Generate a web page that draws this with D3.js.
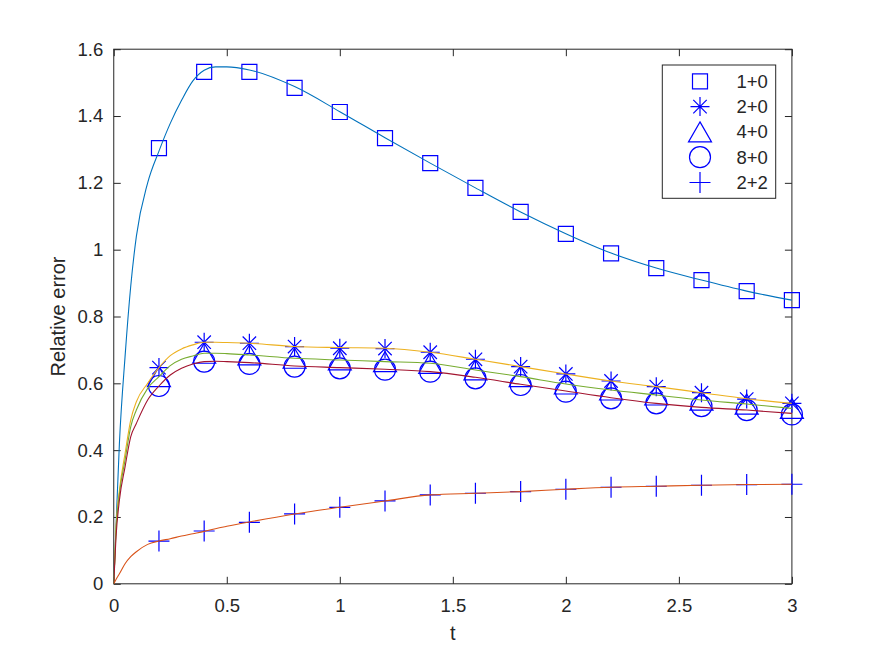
<html>
<head>
<meta charset="utf-8">
<title>Relative error</title>
<style>
body{margin:0;background:#fff;}
svg{display:block;}
text{font-family:"Liberation Sans",Arial,Helvetica,sans-serif;fill:#262626;}
</style>
</head>
<body>
<script src="https://cdn.jsdelivr.net/npm/d3@7/dist/d3.min.js"></script>
<script>
var width=875, height=656;
var pL=113.75, pR=791.9, pT=49.2, pB=583.8;

// marker sample times
var tMarks=[0.2,0.4,0.6,0.8,1.0,1.2,1.4,1.6,1.8,2.0,2.2,2.4,2.6,2.8,3.0];
// marker values per case
var mark1p0=[1.304,1.532,1.532,1.484,1.412,1.334,1.259,1.185,1.113,1.047,0.989,0.945,0.909,0.876,0.849];
var mark2p0=[0.647,0.723,0.720,0.710,0.705,0.704,0.693,0.672,0.650,0.628,0.607,0.590,0.572,0.553,0.540];
var mark4p0=[0.620,0.690,0.685,0.675,0.670,0.665,0.660,0.640,0.620,0.598,0.580,0.565,0.550,0.538,0.525];
var mark8p0=[0.592,0.665,0.658,0.650,0.645,0.641,0.635,0.615,0.595,0.575,0.555,0.540,0.532,0.520,0.507];
var mark2p2=[0.128,0.158,0.184,0.209,0.229,0.248,0.266,0.271,0.276,0.283,0.289,0.292,0.295,0.297,0.298];

// smooth curves
var tCurve=[0,0.01,0.025,0.05,0.075,0.1,0.15,0.2,0.25,0.3,0.35,0.4,0.45,0.5,0.6,0.8,1.0,1.2,1.4,1.6,1.8,2.0,2.2,2.4,2.6,2.8,3.0];
var curve1p0=[0,0.17,0.42,0.68,0.89,1.04,1.20,1.295,1.378,1.447,1.505,1.537,1.547,1.547,1.538,1.488,1.413,1.335,1.259,1.185,1.113,1.048,0.990,0.945,0.909,0.876,0.849];
var curve2p0=[0,0.17,0.28,0.39,0.49,0.545,0.60,0.647,0.683,0.703,0.715,0.723,0.723,0.722,0.720,0.710,0.707,0.705,0.693,0.672,0.650,0.628,0.607,0.590,0.572,0.554,0.540];
var curve4p0=[0,0.16,0.27,0.37,0.47,0.52,0.585,0.620,0.653,0.672,0.682,0.690,0.690,0.689,0.685,0.675,0.670,0.665,0.660,0.640,0.620,0.598,0.580,0.565,0.550,0.538,0.525];
var curve8p0=[0,0.14,0.25,0.35,0.44,0.48,0.55,0.592,0.625,0.645,0.658,0.665,0.666,0.665,0.662,0.652,0.647,0.642,0.635,0.618,0.597,0.577,0.557,0.540,0.528,0.520,0.510];
var curve2p2=[0,0.013,0.030,0.060,0.081,0.096,0.118,0.128,0.135,0.143,0.150,0.157,0.165,0.172,0.185,0.209,0.229,0.248,0.266,0.271,0.276,0.283,0.289,0.292,0.295,0.297,0.298];

var names=['1+0','2+0','4+0','8+0','2+2'];
var shapes=['square','star','triangle','circle','plus'];
var lineColors=['#0072BD','#EDB120','#77AC30','#A2142F','#D95319'];
var markSets=[mark1p0,mark2p0,mark4p0,mark8p0,mark2p2];
var curveSets=[curve1p0,curve2p0,curve4p0,curve8p0,curve2p2];

var xTicks=[0,0.5,1,1.5,2,2.5,3];
var yTicks=[0,0.2,0.4,0.6,0.8,1,1.2,1.4,1.6];

var svg=d3.select('body').append('svg')
    .attr('width',width)
    .attr('height',height);

var x=d3.scaleLinear().domain([0,3]).range([pL,pR]);
var y=d3.scaleLinear().domain([0,1.6]).range([pB,pT]);

svg.append('defs').append('clipPath').attr('id','plotclip')
    .append('rect').attr('x',pL).attr('y',pT)
    .attr('width',pR-pL).attr('height',pB-pT);

// axes
function styleAxis(g){
    g.select('.domain').remove();
    g.selectAll('line').attr('stroke','#262626');
    g.selectAll('text').attr('font-size',18.5).attr('fill','#262626')
        .style('font-family','"Liberation Sans",Arial,sans-serif');
}
svg.append('g').attr('transform','translate(0,'+pB+')')
    .call(d3.axisBottom(x).tickValues(xTicks).tickFormat(d3.format('')).tickSizeInner(-7).tickSizeOuter(0).tickPadding(15))
    .call(styleAxis);
svg.append('g').attr('transform','translate('+pL+',0)')
    .call(d3.axisLeft(y).tickValues(yTicks).tickFormat(d3.format('')).tickSizeInner(-7).tickSizeOuter(0).tickPadding(10.5))
    .call(styleAxis);
svg.append('g').attr('transform','translate(0,'+pT+')')
    .call(d3.axisTop(x).tickValues(xTicks).tickFormat('').tickSizeInner(-7).tickSizeOuter(0))
    .call(styleAxis);
svg.append('g').attr('transform','translate('+pR+',0)')
    .call(d3.axisRight(y).tickValues(yTicks).tickFormat('').tickSizeInner(-7).tickSizeOuter(0))
    .call(styleAxis);

svg.append('rect')
    .attr('x',pL).attr('y',pT)
    .attr('width',pR-pL).attr('height',pB-pT)
    .attr('fill','none').attr('stroke','#262626').attr('stroke-width',1);

// axis labels
svg.append('text')
    .attr('x',(pL+pR)/2).attr('y',640)
    .attr('text-anchor','middle').attr('font-size',20)
    .text('t');
svg.append('text')
    .attr('transform','translate(65,'+((pT+pB)/2)+') rotate(-90)')
    .attr('text-anchor','middle').attr('font-size',20)
    .text('Relative error');

// marker shapes
function markerPath(kind){
    var p=d3.path();
    if(kind=='square'){
        p.rect(-7.5,-7.5,15,15);
    } else if(kind=='star'){
        var r=9.5, d=r*0.7071;
        p.moveTo(0,-r); p.lineTo(0,r);
        p.moveTo(-r,0); p.lineTo(r,0);
        p.moveTo(-d,-d); p.lineTo(d,d);
        p.moveTo(-d,d); p.lineTo(d,-d);
    } else if(kind=='triangle'){
        p.moveTo(0,-10); p.lineTo(11.5,10); p.lineTo(-11.5,10); p.closePath();
    } else if(kind=='circle'){
        p.moveTo(10.5,0); p.arc(0,0,10.5,0,2*Math.PI);
    } else {
        p.moveTo(0,-10.5); p.lineTo(0,10.5);
        p.moveTo(-10.5,0); p.lineTo(10.5,0);
    }
    return p.toString();
}

// markers (not clipped, like the original)
markSets.forEach(function(vals,k){
    svg.append('g').selectAll('path')
        .data(vals)
        .enter()
        .append('path')
        .attr('transform',function(d,i){ return 'translate('+x(tMarks[i])+','+y(d)+')'; })
        .attr('d',markerPath(shapes[k]))
        .attr('fill','none')
        .attr('stroke','#0000FF')
        .attr('stroke-width',1.2);
});

// curves
var plot=svg.append('g').attr('clip-path','url(#plotclip)');
var line=d3.line()
    .x(function(d,i){ return x(tCurve[i]); })
    .y(function(d){ return y(d); })
    .curve(d3.curveMonotoneX);
curveSets.forEach(function(vals,k){
    plot.append('path')
        .attr('d',line(vals))
        .attr('fill','none')
        .attr('stroke',lineColors[k])
        .attr('stroke-width',1.1);
});

// legend
var lg=svg.append('g');
lg.append('rect')
    .attr('x',662.3).attr('y',65)
    .attr('width',113.4).attr('height',133.3)
    .attr('fill','#fff').attr('stroke','#262626').attr('stroke-width',1);
names.forEach(function(n,i){
    var cy=81.3+i*25.3;
    lg.append('path')
        .attr('transform','translate(700,'+cy+')')
        .attr('d',markerPath(shapes[i]))
        .attr('fill','none')
        .attr('stroke','#0000FF')
        .attr('stroke-width',1.2);
    lg.append('text')
        .attr('x',736.5).attr('y',cy+6.5)
        .attr('font-size',18.5)
        .text(n);
});
</script>
</body>
</html>
